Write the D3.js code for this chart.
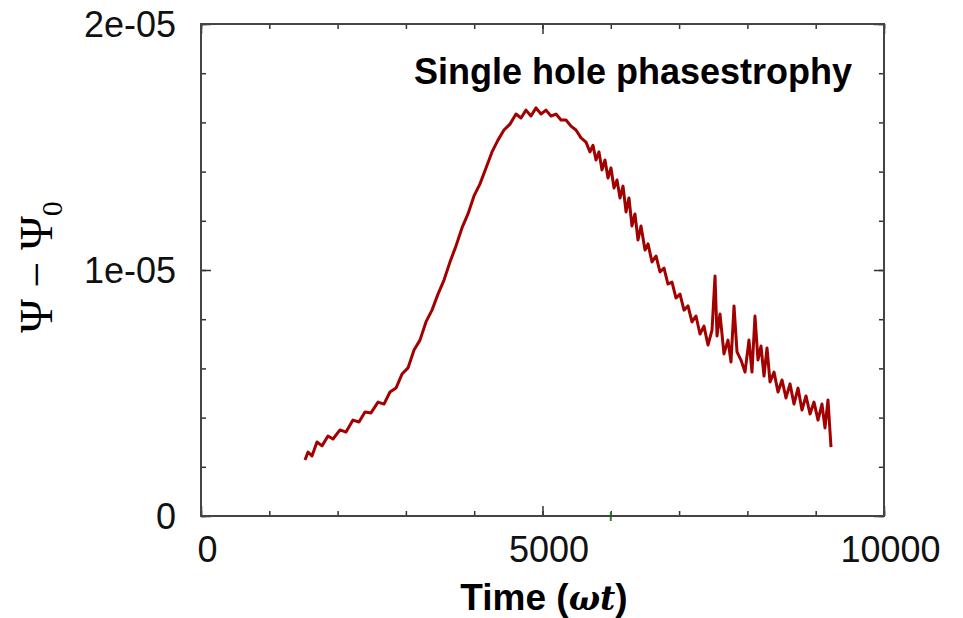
<!DOCTYPE html>
<meta charset="utf-8">
<title>Single hole phasestrophy</title>
<head>
  <script src="https://d3js.org/d3.v7.min.js"></script>
  <style>
    body { margin: 0; background: #fff; }
    .tick text { font-family: "Liberation Sans", Arial, sans-serif; }
  </style>
</head>
<body>
  <div id="chart"></div>
  <script>
    // values
    var times = [1523, 1567, 1625, 1698, 1772, 1859, 1933, 2035, 2123, 2225, 2313, 2401, 2489, 2592, 2679, 2767, 2855,
      2943, 3031, 3119, 3206, 3294, 3382, 3470, 3558, 3646, 3734, 3821, 3909, 3997, 4085, 4173, 4261, 4348, 4436, 4524,
      4612, 4685, 4758, 4831, 4905, 4978, 5051, 5124, 5198, 5271, 5344, 5417, 5490, 5564, 5637, 5695, 5739, 5783, 5827,
      5871, 5915, 5959, 6003, 6047, 6091, 6135, 6179, 6223, 6266, 6310, 6354, 6398, 6442, 6501, 6545, 6603, 6662, 6720,
      6779, 6837, 6896, 6955, 7013, 7072, 7130, 7189, 7247, 7306, 7364, 7423, 7482, 7526, 7555, 7599, 7657, 7716, 7760,
      7804, 7848, 7906, 7965, 8023, 8067, 8111, 8155, 8199, 8243, 8287, 8331, 8390, 8448, 8507, 8565, 8624, 8682, 8741,
      8799, 8858, 8917, 8975, 9034, 9092, 9136, 9180, 9224];
    // phasestrophy, units of 1e-6
    var psi = [2.28, 2.60, 2.44, 3.01, 2.85, 3.25, 3.13, 3.50, 3.41, 3.90, 3.82, 4.23, 4.19, 4.63, 4.55, 5.04, 5.20,
      5.77, 6.02, 6.75, 7.15, 7.89, 8.37, 9.02, 9.59, 10.33, 10.98, 11.71, 12.28, 13.01, 13.50, 14.15, 14.80, 15.28, 15.69, 15.93,
      16.34, 16.18, 16.50, 16.26, 16.59, 16.34, 16.50, 16.26, 16.34, 16.10, 16.10, 15.85, 15.69, 15.37, 15.20, 14.80, 15.07, 14.47, 14.80,
      14.07, 14.47, 13.74, 14.15, 13.33, 13.66, 12.93, 13.41, 12.36, 12.93, 11.79, 12.28, 11.22, 11.79, 10.81, 11.06, 10.33, 10.57, 9.92,
      10.08, 9.43, 9.51, 8.86, 9.02, 8.37, 8.54, 7.89, 8.13, 7.40, 7.72, 6.95, 7.56, 9.76, 7.32, 8.21, 6.59, 7.15, 6.26,
      8.54, 6.67, 6.34, 5.85, 7.15, 5.85, 8.13, 6.34, 6.91, 5.69, 6.83, 5.45, 5.85, 5.04, 5.53, 4.80, 5.37, 4.55, 5.20,
      4.31, 4.88, 4.15, 4.63, 3.90, 4.55, 3.58, 4.72, 2.80];

    var xMajor = [0, 5000, 10000];
    var xMinor = [0, 1000, 2000, 3000, 4000, 5000, 6000, 7000, 8000, 9000, 10000];
    var yMajor = [0, 1e-5, 2e-5];
    var yMinor = [0, 2e-6, 4e-6, 6e-6, 8e-6, 1e-5, 1.2e-5, 1.4e-5, 1.6e-5, 1.8e-5, 2e-5];
    var yLabels = ["0", "1e-05", "2e-05"];

    var width = 963, height = 618;
    var pLeft = 201, pRight = 884, pTop = 24, pBottom = 516;

    var data = times.map(function(t, i) { return { t: t, v: psi[i] * 1e-6 }; });

    var x = d3.scaleLinear().domain([0, 10000]).range([pLeft, pRight]);
    var y = d3.scaleLinear().domain([0, 2e-5]).range([pBottom, pTop]);

    var svg = d3.select("#chart").append("svg")
      .attr("width", width)
      .attr("height", height);

    // ticks on all four sides, pointing inward
    function ticks(axis, tr) {
      var g = svg.append("g").attr("transform", tr).call(axis);
      g.select(".domain").remove();
      g.selectAll(".tick line").attr("stroke", "#333").attr("stroke-width", 1.5);
      return g;
    }
    ticks(d3.axisBottom(x).tickValues(xMinor).tickSize(-5).tickFormat(""), "translate(0," + pBottom + ")");
    ticks(d3.axisBottom(x).tickValues(xMajor).tickSize(-10).tickFormat(""), "translate(0," + pBottom + ")");
    ticks(d3.axisTop(x).tickValues(xMinor).tickSize(-5).tickFormat(""), "translate(0," + pTop + ")");
    ticks(d3.axisTop(x).tickValues(xMajor).tickSize(-10).tickFormat(""), "translate(0," + pTop + ")");
    ticks(d3.axisLeft(y).tickValues(yMinor).tickSize(-5).tickFormat(""), "translate(" + pLeft + ",0)");
    ticks(d3.axisLeft(y).tickValues(yMajor).tickSize(-10).tickFormat(""), "translate(" + pLeft + ",0)");
    ticks(d3.axisRight(y).tickValues(yMinor).tickSize(-5).tickFormat(""), "translate(" + pRight + ",0)");
    ticks(d3.axisRight(y).tickValues(yMajor).tickSize(-10).tickFormat(""), "translate(" + pRight + ",0)");

    // tick labels
    var xl = ticks(d3.axisBottom(x).tickValues(xMajor).tickSize(0).tickPadding(0).tickFormat(d3.format("d")),
      "translate(6," + pBottom + ")");
    xl.selectAll(".tick text").attr("font-size", 36).attr("fill", "#111").attr("dy", 0).attr("y", 46);
    var yl = ticks(d3.axisLeft(y).tickValues(yMajor).tickSize(0).tickPadding(0)
      .tickFormat(function(d, i) { return yLabels[i]; }), "translate(" + (pLeft - 25) + ",0)");
    yl.selectAll(".tick text").attr("font-size", 36).attr("fill", "#111").attr("dy", "0.36em");

    // green mark on the x axis
    svg.append("line")
      .attr("x1", x(6000)).attr("x2", x(6000))
      .attr("y1", pBottom - 4).attr("y2", pBottom + 5)
      .attr("stroke", "#2a8a2a").attr("stroke-width", 2);

    // frame
    svg.append("rect")
      .attr("x", pLeft).attr("y", pTop)
      .attr("width", pRight - pLeft).attr("height", pBottom - pTop)
      .attr("fill", "none").attr("stroke", "#444").attr("stroke-width", 2);

    var line = d3.line()
      .x(function(d) { return x(d.t); })
      .y(function(d) { return y(d.v); });

    svg.append("path")
      .datum(data)
      .attr("d", line)
      .attr("fill", "none")
      .attr("stroke", "#a30000")
      .attr("stroke-width", 3)
      .attr("stroke-linejoin", "round");

    // title
    svg.append("text")
      .attr("x", 414).attr("y", 84)
      .attr("font-family", "Liberation Sans, Arial, sans-serif")
      .attr("font-weight", "bold")
      .attr("font-size", 36)
      .text("Single hole phasestrophy");

    // x label
    var xt = svg.append("text")
      .attr("x", 544).attr("y", 610)
      .attr("text-anchor", "middle")
      .attr("font-family", "Liberation Sans, Arial, sans-serif")
      .attr("font-weight", "bold")
      .attr("font-size", 37);
    xt.append("tspan").text("Time (");
    xt.append("tspan").attr("font-family", "DejaVu Serif, serif").attr("font-style", "italic")
      .attr("font-weight", "bold").attr("font-size", 33).text("ωt");
    xt.append("tspan").text(")");

    // y label
    var yt = svg.append("text")
      .attr("transform", "translate(52,333) rotate(-90)")
      .attr("font-family", "Liberation Serif, Times New Roman, serif")
      .attr("font-size", 46);
    yt.append("tspan").text("Ψ − Ψ");
    yt.append("tspan").attr("font-size", 30).attr("dy", 10).text("0");
  </script>
</body>
